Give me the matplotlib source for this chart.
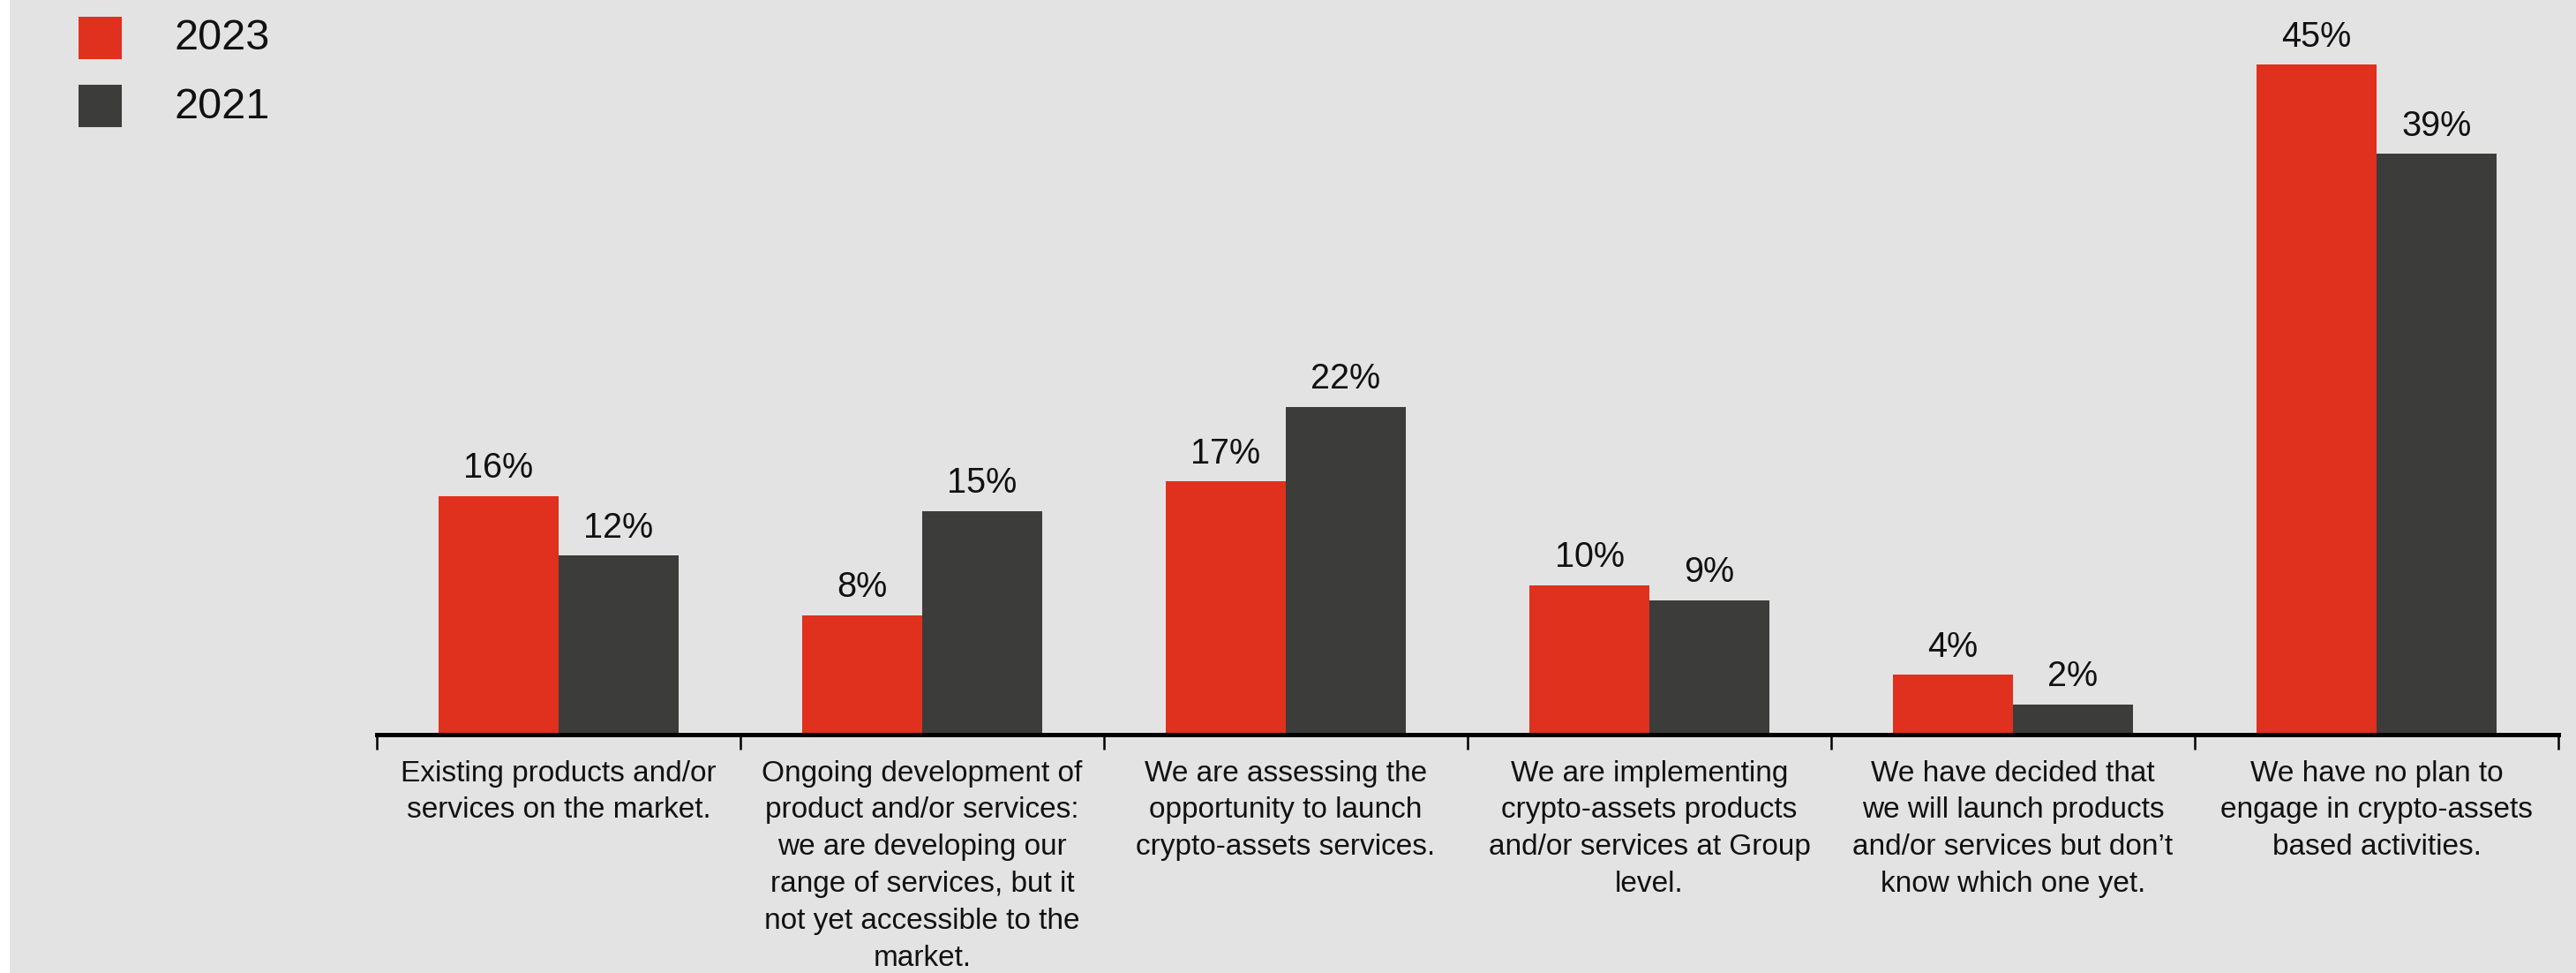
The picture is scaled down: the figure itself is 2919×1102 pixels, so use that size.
import numpy as np
import matplotlib.pyplot as plt
from matplotlib.patches import Rectangle

# survey answers and shares (%) per year
categories = [
    "Existing products and/or\nservices on the market.",
    "Ongoing development of\nproduct and/or services:\nwe are developing our\nrange of services, but it\nnot yet accessible to the\nmarket.",
    "We are assessing the\nopportunity to launch\ncrypto-assets services.",
    "We are implementing\ncrypto-assets products\nand/or services at Group\nlevel.",
    "We have decided that\nwe will launch products\nand/or services but don\u2019t\nknow which one yet.",
    "We have no plan to\nengage in crypto-assets\nbased activities.",
]
share_2023 = [16, 8, 17, 10, 4, 45]
share_2021 = [12, 15, 22, 9, 2, 39]
series_names = ["2023", "2021"]

RED = "#e0301e"
DARK = "#3c3c3b"
BG = "#e3e3e3"

plt.rcParams["font.family"] = ["Liberation Sans", "DejaVu Sans"]

W, H = 2919, 1102
fig = plt.figure(figsize=(W / 100, H / 100), dpi=100, facecolor=BG)

# thin white strip on the left edge
fig.patches.append(Rectangle((0, 0), 11 / W, 1, transform=fig.transFigure,
                             facecolor="white", edgecolor="none", zorder=0))

left, right = 427, 2899
base = 831.5
ax = fig.add_axes([left / W, (H - base) / H, (right - left) / W, base / H])
ax.set_facecolor("none")

x = np.arange(len(categories))
bw = 0.33
b1 = ax.bar(x - bw / 2, share_2023, bw, color=RED, zorder=2)
b2 = ax.bar(x + bw / 2, share_2021, bw, color=DARK, zorder=2)

for bars, vals in ((b1, share_2023), (b2, share_2021)):
    for rect, v in zip(bars, vals):
        ax.annotate(f"{v}%", (rect.get_x() + rect.get_width() / 2, v),
                    xytext=(0, 9), textcoords="offset points",
                    ha="center", va="bottom", fontsize=28.5, color="#111111")

ax.set_xlim(-0.5, len(categories) - 0.5)
ax.set_ylim(0, base / 16.85)

for s in ("top", "right", "left"):
    ax.spines[s].set_visible(False)
ax.spines["bottom"].set_linewidth(3.6)
ax.spines["bottom"].set_color("black")
ax.spines["bottom"].set_zorder(3)
ax.set_yticks([])

# boundary ticks, labels centred under each pair
ax.set_xticks(np.arange(-0.5, len(categories)), labels=[])
ax.tick_params(axis="x", which="major", direction="out", length=12.5, width=1.8, color="black")
ax.set_xticks(x, labels=categories, minor=True)
ax.tick_params(axis="x", which="minor", length=0, pad=21, labelsize=24, labelcolor="#111111")
for lab in ax.get_xticklabels(minor=True):
    lab.set_linespacing(1.45)
    lab.set_multialignment("center")

# legend
for i, (name, col) in enumerate(zip(series_names, [RED, DARK])):
    y0 = 19 + i * 77
    fig.patches.append(Rectangle((89 / W, 1 - (y0 + 48) / H), 49 / W, 48 / H,
                                 transform=fig.transFigure, facecolor=col,
                                 edgecolor="none"))
    fig.text(198 / W, 1 - (y0 + 25) / H, name, fontsize=35, color="#111111",
             ha="left", va="center")

fig.savefig("out.png", dpi=100, facecolor=BG)
